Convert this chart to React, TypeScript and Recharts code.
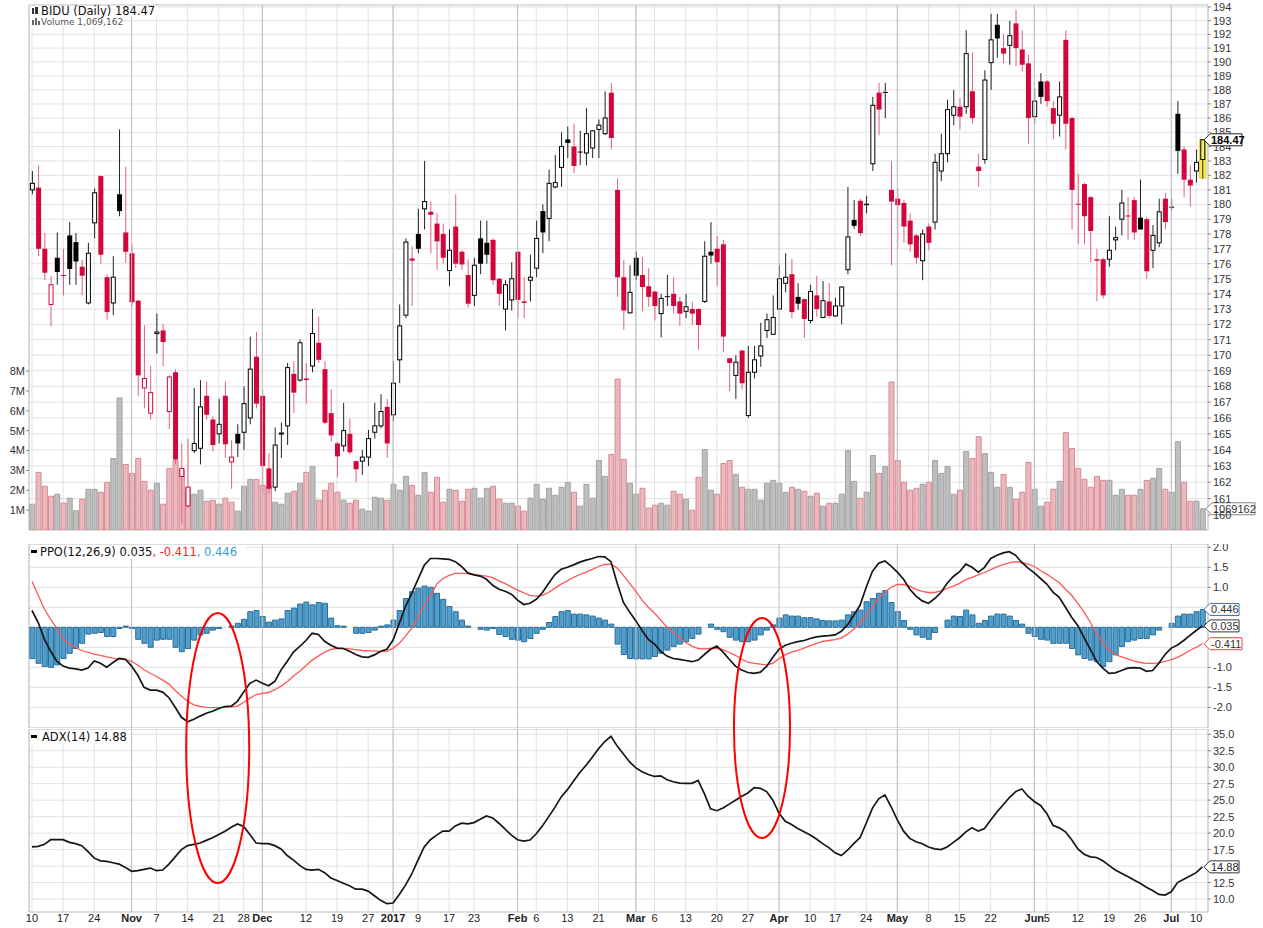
import React from 'react';
import {
  ComposedChart,
  Bar,
  Line,
  XAxis,
  YAxis,
  CartesianGrid,
  ReferenceLine,
  ReferenceArea,
  ReferenceDot,
  Cell
} from 'recharts';

// BIDU daily, 10 Oct 2016 - 11 Jul 2017
const opens = [
  181.0, 181.15, 177.0, 173.3, 176.4, 175.25, 177.9, 177.45, 175.8, 173.4,
  178.75, 181.95, 175.1, 173.4, 180.7, 178.1, 176.7, 173.55, 167.9, 166.3,
  171.4, 171.6, 166.4, 168.9, 162.35, 160.55, 163.95, 164.1, 167.4, 165.9,
  165.0, 167.4, 163.25, 165.0, 165.1, 166.0, 169.9, 167.4, 162.85, 161.7,
  165.0, 165.5, 168.8, 168.4, 168.5, 169.3, 170.8, 169.1, 166.3, 164.4,
  164.25, 165.0, 163.3, 163.3, 163.55, 165.1, 165.5, 166.7, 166.2, 169.7,
  172.6, 176.35, 178.0, 179.7, 179.5, 178.7, 178.0, 175.55, 178.5, 176.8,
  175.25, 173.9, 177.7, 177.4, 177.6, 175.0, 173.0, 173.6, 176.8, 173.5,
  174.9, 175.7, 179.55, 179.05, 181.2, 182.55, 184.5, 184.0, 183.65, 183.55,
  183.9, 185.2, 184.9, 187.8, 181.0, 175.1, 172.75, 176.4, 175.25, 174.5,
  174.15, 172.7, 173.85, 174.0, 173.5, 172.85, 173.0, 173.0, 173.5, 176.8,
  177.0, 177.3, 169.8, 168.7, 170.3, 166.15, 168.9, 169.95, 171.6, 171.35,
  173.0, 174.7, 175.3, 173.8, 173.65, 172.25, 173.9, 172.45, 173.5, 172.55,
  173.2, 175.6, 178.95, 180.25, 180.05, 182.8, 187.8, 187.85, 181.0, 180.4,
  180.1, 178.9, 177.9, 176.2, 178.5, 178.8, 182.3, 183.5, 186.2, 186.8,
  186.8, 187.9, 182.6, 183.1, 189.95, 192.7, 191.0, 191.2, 192.8, 190.9,
  189.9, 186.1, 188.6, 188.6, 186.7, 186.2, 191.6, 186.0, 180.05, 181.4,
  180.5, 176.3, 176.3, 176.3, 177.6, 179.0, 179.25, 180.3, 179.1, 179.0,
  176.9, 177.4, 180.4, 179.85, 186.3, 183.8, 181.7, 182.3, 183.1
];

const highs = [
  182.3, 182.7, 178.05, 175.2, 178.1, 177.0, 178.8, 178.05, 176.25, 177.4,
  181.1, 182.0, 175.3, 176.5, 185.2, 182.6, 177.3, 173.6, 171.95, 169.3,
  172.7, 172.0, 168.7, 169.1, 164.4, 164.7, 167.9, 168.4, 168.3, 166.1,
  167.2, 168.3, 164.6, 165.6, 168.0, 171.2, 171.5, 167.8, 163.8, 165.4,
  165.7, 169.5, 169.6, 171.0, 169.5, 173.0, 172.5, 169.6, 167.8, 164.5,
  166.95, 165.95, 163.35, 164.0, 165.25, 166.95, 167.5, 167.2, 169.6, 173.3,
  177.7, 177.2, 179.7, 183.0, 180.2, 179.4, 178.7, 178.3, 180.7, 176.9,
  176.3, 176.4, 178.9, 178.9, 177.7, 175.05, 174.9, 176.1, 176.85, 175.1,
  176.6, 178.9, 180.0, 182.4, 183.4, 185.0, 185.4, 185.6, 185.1, 186.7,
  185.15, 185.9, 187.9, 188.5, 181.8, 176.25, 175.9, 176.8, 176.45, 175.7,
  174.2, 174.0, 175.25, 175.1, 173.8, 174.0, 173.5, 173.05, 177.5, 178.8,
  177.85, 177.6, 169.8, 170.0, 170.35, 170.6, 170.6, 172.1, 172.7, 173.9,
  175.9, 176.7, 176.3, 174.7, 173.7, 174.6, 175.2, 174.85, 174.7, 173.75,
  174.5, 181.2, 180.3, 180.4, 180.6, 187.5, 188.5, 188.5, 183.0, 181.1,
  180.3, 179.4, 178.0, 178.3, 178.7, 183.5, 184.9, 187.3, 188.0, 187.4,
  192.3, 190.7, 183.5, 189.4, 193.5, 193.5, 192.0, 193.0, 193.8, 192.3,
  190.5, 188.1, 189.2, 188.7, 187.2, 188.6, 192.3, 186.1, 182.1, 181.5,
  180.6, 177.0, 176.4, 179.2, 178.5, 181.0, 180.5, 180.5, 181.7, 179.15,
  178.6, 180.4, 180.8, 180.4, 187.2, 184.0, 182.7, 183.8, 184.5
];

const lows = [
  180.7, 176.5, 174.9, 171.85, 174.6, 173.9, 174.6, 174.6, 173.9, 173.3,
  177.7, 176.0, 172.3, 172.6, 179.2, 176.05, 173.2, 167.4, 166.6, 165.9,
  170.1, 169.3, 165.3, 163.1, 159.5, 160.4, 163.8, 163.1, 165.9, 163.9,
  164.4, 163.5, 161.6, 163.55, 164.0, 165.6, 166.6, 161.3, 161.3, 161.45,
  163.5, 164.3, 166.3, 168.3, 166.9, 168.9, 169.5, 165.6, 164.5, 162.3,
  163.9, 163.7, 162.0, 162.45, 163.0, 164.7, 165.35, 163.5, 165.8, 168.2,
  172.4, 173.2, 176.7, 178.3, 176.7, 175.6, 176.0, 174.5, 175.7, 175.6,
  173.1, 173.2, 175.3, 176.0, 174.6, 173.2, 171.6, 172.9, 172.4, 172.4,
  173.5, 175.1, 176.7, 177.5, 181.1, 181.2, 183.2, 182.15, 182.7, 182.7,
  183.2, 183.2, 184.8, 183.8, 173.8, 171.65, 172.7, 174.9, 172.85, 173.15,
  172.25, 171.15, 173.2, 172.7, 171.9, 172.4, 171.95, 170.35, 173.4, 176.0,
  174.5, 170.2, 167.7, 167.2, 167.8, 166.0, 168.5, 169.25, 171.1, 171.3,
  172.95, 174.1, 172.4, 172.95, 171.1, 172.05, 172.5, 172.4, 172.4, 172.5,
  172.0, 175.3, 178.35, 177.85, 179.4, 182.3, 184.8, 186.0, 175.9, 177.0,
  177.4, 176.8, 176.0, 174.9, 176.9, 178.3, 181.6, 182.9, 185.5, 185.2,
  186.3, 185.6, 181.2, 182.8, 188.0, 190.3, 189.9, 189.8, 189.7, 189.3,
  184.2, 185.6, 187.0, 186.8, 184.5, 184.7, 183.8, 178.3, 177.3, 177.3,
  176.1, 173.5, 173.7, 175.8, 176.9, 177.9, 177.6, 177.6, 178.3, 175.0,
  175.7, 177.1, 178.3, 179.6, 182.1, 180.5, 179.85, 181.5, 181.8
];

const closes = [
  181.45, 177.0, 175.4, 174.6, 175.45, 175.2, 175.65, 176.15, 175.2, 176.7,
  180.8, 176.6, 172.8, 175.1, 179.55, 176.8, 173.45, 168.7, 168.5, 167.6,
  171.5, 170.85, 168.6, 163.4, 162.85, 161.7, 164.4, 166.7, 166.2, 164.3,
  165.6, 164.35, 163.55, 164.4, 166.9, 169.1, 166.9, 163.0, 161.6, 164.3,
  165.05, 169.2, 167.6, 170.8, 168.4, 171.4, 169.7, 165.7, 164.9, 163.6,
  165.2, 163.85, 162.8, 163.55, 164.7, 165.5, 166.4, 164.4, 168.2, 171.9,
  177.45, 176.2, 177.0, 180.2, 179.3, 177.5, 176.4, 176.9, 176.0, 175.95,
  173.35, 175.9, 176.0, 176.6, 174.9, 174.0, 174.6, 175.0, 173.6, 173.4,
  175.1, 177.7, 178.1, 181.45, 181.5, 184.0, 184.25, 182.65, 183.6, 184.9,
  185.1, 185.5, 186.0, 184.6, 175.1, 172.9, 174.1, 175.2, 174.45, 173.8,
  173.2, 173.7, 173.8, 173.2, 172.7, 173.15, 172.7, 171.95, 176.5, 176.55,
  176.1, 171.2, 169.5, 169.55, 168.2, 168.9, 169.7, 170.6, 172.3, 172.45,
  175.0, 175.1, 172.8, 173.35, 172.35, 174.15, 173.0, 173.55, 172.55, 173.2,
  174.45, 177.8, 178.55, 178.05, 179.95, 186.9, 186.6, 187.8, 180.2, 179.95,
  178.5, 177.3, 176.4, 178.0, 177.4, 182.9, 183.5, 186.6, 186.8, 186.1,
  190.6, 186.0, 182.3, 188.7, 191.6, 191.7, 190.6, 191.9, 191.0, 189.8,
  186.0, 187.2, 187.5, 187.2, 185.6, 187.5, 185.6, 181.0, 180.0, 179.2,
  178.2, 176.2, 173.9, 176.9, 177.75, 180.1, 179.2, 178.1, 178.3, 175.5,
  177.9, 179.5, 178.8, 179.8, 183.7, 181.7, 181.3, 182.9, 184.47
];

// volume in millions of shares
const volumes = [
  1.3, 2.9, 2.2, 1.7, 1.8, 1.35, 1.6, 0.97, 1.55, 2.05,
  2.05, 1.9, 2.4, 3.6, 6.65, 3.3, 2.85, 3.6, 2.45, 2.0,
  2.35, 1.3, 3.1, 3.5, 3.05, 2.1, 1.8, 2.0, 1.45, 1.5,
  1.3, 1.6, 1.4, 0.95, 2.2, 2.55, 2.55, 2.25, 2.2, 1.4,
  1.3, 1.85, 1.95, 2.35, 2.9, 3.2, 1.5, 2.0, 2.35, 1.9,
  1.5, 1.35, 1.5, 1.05, 0.95, 1.65, 1.6, 1.5, 2.3, 2.0,
  2.7, 2.25, 1.75, 2.9, 1.9, 2.65, 1.4, 2.05, 2.0, 1.45,
  2.05, 2.1, 1.6, 2.1, 2.2, 1.55, 1.35, 1.35, 1.2, 0.95,
  1.6, 2.3, 1.55, 2.1, 1.75, 2.15, 2.4, 1.9, 1.2, 2.3,
  1.6, 3.5, 2.7, 3.8, 7.6, 3.55, 2.35, 1.8, 2.1, 1.1,
  1.25, 1.35, 1.25, 1.95, 1.8, 1.55, 1.0, 2.65, 4.05, 2.0,
  1.8, 3.35, 3.5, 2.8, 2.15, 2.05, 2.05, 1.5, 2.35, 2.5,
  2.35, 1.9, 2.15, 2.05, 1.95, 1.7, 1.85, 1.2, 1.35, 1.35,
  1.8, 4.0, 2.45, 1.6, 1.9, 3.75, 2.85, 3.2, 7.45, 3.5,
  2.4, 2.0, 2.1, 2.3, 2.4, 3.5, 2.85, 3.2, 1.8, 2.0,
  3.95, 3.6, 4.7, 3.85, 2.9, 2.15, 2.8, 2.15, 1.55, 1.9,
  3.4, 2.05, 1.2, 1.4, 2.05, 2.45, 4.9, 4.1, 3.1, 2.55,
  2.15, 2.7, 2.5, 2.5, 1.75, 2.05, 1.75, 1.75, 2.05, 2.5,
  2.6, 3.1, 2.05, 1.9, 4.45, 2.4, 1.45, 1.45, 1.069162
];

const ppoLine = [
  0.42, 0.12, -0.3, -0.6, -0.85, -0.97, -1.02, -1.04, -1.07, -1.02,
  -0.84, -0.9, -1.0, -0.88, -0.78, -0.8, -0.97, -1.2, -1.5, -1.57,
  -1.57, -1.62, -1.76, -2.0, -2.25, -2.36, -2.3, -2.22, -2.15, -2.1,
  -2.03, -1.98, -1.97, -1.85, -1.62, -1.4, -1.32, -1.4, -1.46, -1.35,
  -1.07, -0.85, -0.62, -0.48, -0.33, -0.15, -0.18, -0.35, -0.45, -0.52,
  -0.53, -0.6, -0.68, -0.74, -0.75, -0.69, -0.6, -0.55, -0.32, 0.1,
  0.52, 0.85, 1.2, 1.55, 1.72, 1.72, 1.71, 1.7, 1.64, 1.52,
  1.36, 1.31, 1.28, 1.2, 1.05, 0.95, 0.9, 0.83, 0.68, 0.57,
  0.6, 0.7, 0.87, 1.1, 1.32, 1.45, 1.5, 1.56, 1.63, 1.68,
  1.72, 1.77, 1.76, 1.64, 1.1, 0.62, 0.38, 0.16, -0.08, -0.3,
  -0.42, -0.6, -0.72, -0.78, -0.8, -0.83, -0.86, -0.82, -0.68, -0.55,
  -0.47, -0.62, -0.8, -0.97, -1.07, -1.13, -1.15, -1.12, -0.98, -0.75,
  -0.55, -0.45, -0.4, -0.36, -0.33, -0.28, -0.24, -0.22, -0.21, -0.19,
  -0.1, 0.06, 0.3, 0.55, 1.0, 1.4, 1.6, 1.66, 1.53, 1.38,
  1.2, 0.95, 0.78, 0.66, 0.6, 0.72, 0.87, 1.1, 1.27, 1.39,
  1.58, 1.5, 1.38, 1.5, 1.72, 1.8, 1.86, 1.89, 1.8, 1.62,
  1.48, 1.36, 1.22, 1.08, 0.88, 0.75, 0.5, 0.25, 0.04, -0.26,
  -0.55, -0.85, -1.02, -1.15, -1.14, -1.08, -1.02, -1.01, -1.02, -1.1,
  -1.08, -0.9, -0.68, -0.52, -0.44, -0.33, -0.2, -0.08, 0.035
];

const ppoSignal = [
  1.15, 0.8, 0.45, 0.2, -0.03, -0.3, -0.42, -0.5, -0.58, -0.63,
  -0.67, -0.7, -0.74, -0.77, -0.79, -0.8, -0.85, -0.95, -1.06, -1.15,
  -1.23, -1.32, -1.42, -1.58, -1.72, -1.85, -1.94, -1.98, -2.0, -2.01,
  -2.01, -2.0, -1.99, -1.97, -1.88, -1.77, -1.68, -1.65, -1.63, -1.56,
  -1.47, -1.36, -1.22, -1.1, -0.96, -0.82, -0.72, -0.62, -0.55, -0.53,
  -0.53, -0.54, -0.56, -0.58, -0.59, -0.59, -0.61, -0.6, -0.52, -0.4,
  -0.22, -0.02, 0.25, 0.55, 0.78, 1.08, 1.22, 1.3, 1.35, 1.35,
  1.34, 1.32, 1.3, 1.28, 1.24, 1.16, 1.09, 1.01, 0.93, 0.86,
  0.8, 0.78, 0.8, 0.87, 0.98, 1.08, 1.16, 1.25, 1.32, 1.38,
  1.45, 1.52, 1.57, 1.58, 1.48, 1.3, 1.1, 0.9, 0.68, 0.5,
  0.35, 0.18, 0.0, -0.12, -0.25, -0.38, -0.47, -0.53, -0.54, -0.53,
  -0.53, -0.56, -0.63, -0.7, -0.8, -0.87, -0.9, -0.92, -0.94, -0.9,
  -0.78, -0.69, -0.62, -0.58, -0.52, -0.46, -0.4, -0.35, -0.33, -0.31,
  -0.27, -0.17, -0.05, 0.1, 0.3, 0.5, 0.72, 0.88, 1.0, 1.07,
  1.07, 1.03, 0.95, 0.9, 0.87, 0.87, 0.91, 0.97, 1.03, 1.1,
  1.19, 1.25, 1.31, 1.37, 1.44, 1.51, 1.57, 1.61, 1.64, 1.62,
  1.58, 1.52, 1.42, 1.33, 1.22, 1.12, 0.95, 0.8, 0.6, 0.38,
  0.12, -0.15, -0.38, -0.56, -0.68, -0.74, -0.79, -0.84, -0.88, -0.9,
  -0.9, -0.89, -0.85, -0.81, -0.75, -0.67, -0.58, -0.5, -0.411
];

const ppoHist = [
  -0.78, -0.9, -0.98, -1.0, -0.94, -0.78, -0.65, -0.53, -0.4, -0.17,
  -0.15, -0.13, -0.23, -0.23, -0.03, 0.03, -0.03, -0.3, -0.4, -0.5,
  -0.32, -0.3, -0.3, -0.5, -0.61, -0.53, -0.32, -0.19, -0.15, -0.07,
  -0.03, 0.0, 0.03, 0.1, 0.2, 0.39, 0.42, 0.27, 0.13, 0.18,
  0.21, 0.42, 0.48, 0.58, 0.63, 0.56, 0.62, 0.6, 0.23, 0.04,
  0.03, 0.0, -0.15, -0.15, -0.13, -0.07, 0.03, 0.06, 0.18, 0.42,
  0.72, 0.89, 0.98, 1.03, 1.0, 0.85, 0.7, 0.52, 0.39, 0.18,
  0.03, 0.0, -0.05, -0.07, -0.03, -0.18, -0.23, -0.3, -0.32, -0.36,
  -0.28, -0.15, -0.05, 0.12, 0.27, 0.39, 0.42, 0.33, 0.33, 0.31,
  0.28, 0.23, 0.18, 0.08, -0.42, -0.68, -0.78, -0.79, -0.79, -0.79,
  -0.73, -0.65, -0.57, -0.48, -0.42, -0.36, -0.28, -0.17, 0.0, 0.08,
  -0.05, -0.11, -0.25, -0.32, -0.36, -0.36, -0.32, -0.19, -0.07, 0.06,
  0.23, 0.31, 0.28, 0.28, 0.24, 0.24, 0.21, 0.17, 0.16, 0.16,
  0.18, 0.31, 0.39, 0.43, 0.64, 0.72, 0.85, 0.92, 0.62, 0.39,
  0.17, -0.05, -0.19, -0.25, -0.3, -0.13, 0.0, 0.18, 0.28, 0.27,
  0.43, 0.31, 0.1, 0.17, 0.28, 0.33, 0.33, 0.28, 0.17, 0.08,
  -0.15, -0.23, -0.3, -0.32, -0.4, -0.4, -0.4, -0.53, -0.69, -0.78,
  -0.82, -0.86, -0.98, -0.86, -0.69, -0.48, -0.36, -0.32, -0.28, -0.28,
  -0.19, -0.07, 0.0, 0.1, 0.28, 0.33, 0.33, 0.39, 0.446
];

const adxLine = [
  17.9, 18.0, 18.3, 19.0, 19.0, 19.0, 18.6, 18.4, 18.1, 17.2,
  16.2, 15.8, 15.7, 15.5, 15.3, 14.8, 14.2, 14.3, 14.5, 14.7,
  14.3, 14.4, 15.3, 16.4, 17.5, 18.1, 18.3, 18.5, 18.9, 19.3,
  19.8, 20.3, 20.9, 21.4, 21.0, 19.8, 18.5, 18.4, 18.4, 18.1,
  17.6, 16.6, 15.9, 15.1, 14.5, 14.4, 14.5, 14.0, 13.2, 12.8,
  12.4, 12.0, 11.5, 11.5, 11.2, 10.5, 9.8, 9.3, 9.4, 10.7,
  12.1, 13.8, 15.9, 17.9, 19.0, 19.7, 20.3, 20.3, 21.1, 21.5,
  21.4, 21.6, 22.1, 22.6, 22.3, 21.5, 20.6, 19.7, 19.0, 18.8,
  18.95, 19.9, 21.1, 22.5, 23.9, 25.5, 26.6, 27.9, 29.2, 30.3,
  31.5, 32.8, 33.9, 34.7, 33.2, 32.0, 30.8, 29.9, 29.3, 28.9,
  28.6, 28.7, 28.1, 27.8, 27.6, 27.55, 27.55, 28.0, 26.0, 23.7,
  23.4, 23.8, 24.4, 25.0, 25.6, 26.1, 26.9, 26.8, 26.3, 25.0,
  23.0, 21.8, 21.3, 20.7, 20.2, 19.7, 19.1, 18.4, 17.8, 17.0,
  16.6, 17.4, 18.4, 19.3, 21.5, 23.8, 25.2, 25.8, 24.0, 22.0,
  20.3, 19.2, 18.7, 18.4, 17.9, 17.6, 17.5, 17.9, 18.6, 19.3,
  20.2, 20.8, 20.3, 20.7, 22.0, 23.2, 24.3, 25.4, 26.3, 26.7,
  25.6, 24.8, 24.2, 23.0, 21.2, 20.8, 20.2, 19.0, 17.6, 16.8,
  16.4, 16.3, 15.8, 15.1, 14.4, 13.9, 13.4, 12.9, 12.4, 11.8,
  11.3, 10.7, 10.6, 11.1, 12.5, 13.0, 13.5, 14.0, 14.88
];

// [day index, label, is month start]
const dateTicks: [number, string, boolean][] = [
  [0, '10', false], [5, '17', false], [10, '24', false], [16, 'Nov', true],
  [20, '7', false], [25, '14', false], [30, '21', false], [34, '28', false],
  [37, 'Dec', true], [44, '12', false], [49, '19', false], [54, '27', false],
  [58, '2017', true], [62, '9', false], [67, '17', false], [71, '23', false],
  [78, 'Feb', true], [81, '6', false], [86, '13', false], [91, '21', false],
  [97, 'Mar', true], [100, '6', false], [105, '13', false], [110, '20', false],
  [115, '27', false], [120, 'Apr', true], [125, '10', false], [129, '17', false],
  [134, '24', false], [139, 'May', true], [144, '8', false], [149, '15', false],
  [154, '22', false], [161, 'Jun', true], [163, '5', false], [168, '12', false],
  [173, '19', false], [178, '26', false], [183, 'Jul', true], [187, '10', false]
];

const priceTicks = [
  160, 161, 162, 163, 164, 165, 166, 167, 168, 169, 170, 171, 172, 173, 174, 175, 176, 177,
  178, 179, 180, 181, 182, 183, 184, 185, 186, 187, 188, 189, 190, 191, 192, 193, 194
];
const volTicks = [1, 2, 3, 4, 5, 6, 7, 8];
const ppoTicks = [-2, -1.5, -1, -0.5, 0, 0.5, 1, 1.5, 2];
const adxTicks = [10, 12.5, 15, 17.5, 20, 22.5, 25, 27.5, 30, 32.5, 35];

const W = 1263;
const X0 = -0.48;
const X1 = 188.9;
const PRICE_DOM: [number, number] = [159.09, 194.15];
const VOL_DOM: [number, number] = [0, 26.435];
const PPO_DOM: [number, number] = [-2.5175, 2.0825];
const ADX_DOM: [number, number] = [8.03, 35.8];

const AX = '"Liberation Sans", Arial, sans-serif';
const LEG = '"DejaVu Sans", Verdana, sans-serif';
const RED = '#d3063b';

const rows = closes.map((c, i) => ({
  i,
  open: opens[i],
  high: highs[i],
  low: lows[i],
  close: c,
  up: i === 0 ? true : c >= closes[i - 1],
  vol: volumes[i],
  ppo: ppoLine[i],
  signal: ppoSignal[i],
  hist: ppoHist[i],
  adx: adxLine[i]
}));
const last = rows[rows.length - 1];

const tickIdx = dateTicks.map((t) => t[0]);
const tickMap = new Map(dateTicks.map(([i, l, b]) => [i, { l, b }]));
const monthIdx = dateTicks.filter((t) => t[2]).map((t) => t[0]);

const DateTick = (p: any) => {
  const t = tickMap.get(p.payload && p.payload.value);
  if (!t) return null;
  return (
    <text x={p.x} y={p.y + 10} textAnchor="middle" fontSize={11} fontWeight={t.b ? 700 : 400}
      fill="#222" fontFamily={AX}>
      {t.l}
    </text>
  );
};

// candle drawn inside the [low, high] range bar; open/close placed on the same log scale
const Candle = (props: any) => {
  const { x, y, width, height, payload } = props;
  if (x == null || y == null || !payload) return null;
  const top = Math.min(y, y + height);
  const bot = Math.max(y, y + height);
  const lh = Math.log(payload.high);
  const ll = Math.log(payload.low);
  const py = (p: number) => (lh === ll ? top : top + ((bot - top) * (lh - Math.log(p))) / (lh - ll));
  const cx = x + width / 2;
  const color = payload.up ? '#000' : RED;
  const hollow = payload.close >= payload.open;
  const bt = py(Math.max(payload.open, payload.close));
  const bb = py(Math.min(payload.open, payload.close));
  const bh = Math.max(bb - bt, 1);
  const isLast = payload.i === last.i;
  return (
    <g>
      {isLast && (
        <rect x={x - 0.5} y={top} width={width + 1} height={bot - top} fill="#f9f25a" stroke="#e1cf1d" />
      )}
      <line x1={cx} x2={cx} y1={top} y2={bot} stroke={payload.up ? '#222' : '#e2607e'} strokeWidth={1} />
      {hollow ? (
        <rect x={x + 0.5} y={bt} width={width - 1} height={bh} fill={isLast ? '#f9f25a' : '#fff'} stroke={color} strokeWidth={1} />
      ) : (
        <rect x={x} y={bt} width={width} height={bh} fill={color} />
      )}
    </g>
  );
};

const Tag = (p: any) => {
  const { cx, cy, text, stroke, color, bold, w } = p;
  if (cx == null || cy == null) return null;
  return (
    <g>
      <path
        d={`M${cx - 2},${cy} L${cx + 4},${cy - 6} L${cx + w},${cy - 6} L${cx + w},${cy + 6} L${cx + 4},${cy + 6} Z`}
        fill="#fff" stroke={stroke} strokeWidth={1}
      />
      <text x={cx + 5} y={cy + 4} fontSize={11} fontWeight={bold ? 700 : 400} fill={color} fontFamily={AX}>
        {text}
      </text>
    </g>
  );
};

// last-value tags are extra ticks of the value axis, listed last so they sit on top of the labels;
// labels fully hidden under a tag in the original are left out
type TagSpec = { v: number; text: string; stroke: string; color: string; bold?: boolean; w: number };

const makeAxisTick = (tags: TagSpec[], fmt: (v: number) => string, covered: number[] = []) => (p: any) => {
  const v = p.payload && p.payload.value;
  const tag = tags.find((t) => t.v === v);
  if (tag) {
    return <Tag cx={p.x - 7} cy={p.y} w={tag.w} text={tag.text} stroke={tag.stroke} color={tag.color} bold={tag.bold} />;
  }
  if (covered.includes(v)) return null;
  return (
    <text x={p.x} y={p.y + 4} fontSize={11} fill="#333" fontFamily={AX}>
      {fmt(v)}
    </text>
  );
};

const priceTags: TagSpec[] = [
  { v: last.close, text: last.close.toFixed(2), stroke: '#222', color: '#000', bold: true, w: 36 }
];
const ppoTags: TagSpec[] = [
  { v: last.hist, text: last.hist.toFixed(3), stroke: '#3f73b5', color: '#333', w: 33 },
  { v: last.ppo, text: last.ppo.toFixed(3), stroke: '#333', color: '#333', w: 33 },
  { v: last.signal, text: last.signal.toFixed(3), stroke: '#ff3b3b', color: '#333', w: 36 }
];
const adxTags: TagSpec[] = [
  { v: last.adx, text: last.adx.toFixed(2), stroke: '#333', color: '#222', w: 33 }
];

const axisTick = { fontSize: 11, fill: '#333', fontFamily: AX };

const MonthLines = (yId: string) =>
  monthIdx.map((m) => (
    <ReferenceLine key={`m${m}`} xAxisId="x" yAxisId={yId} x={m} stroke="#bdbdbd" strokeWidth={1} />
  ));

const PriceChart = () => (
  <ComposedChart width={W} height={543} data={rows} margin={{ top: 5, right: 0, bottom: 0, left: 0 }}>
    <XAxis xAxisId="x" dataKey="i" type="number" domain={[X0, X1]} ticks={tickIdx} interval={0}
      allowDataOverflow height={13} tickLine={false} axisLine={false} tickSize={0} tickMargin={0}
      tick={<DateTick />} />
    <XAxis xAxisId="vx" dataKey="i" type="number" domain={[X0, X1]} allowDataOverflow hide />
    <YAxis yAxisId="vol" orientation="left" width={29} domain={VOL_DOM} ticks={volTicks} interval={0}
      allowDataOverflow axisLine={false} tickSize={3} tickMargin={1} tickLine={{ stroke: '#888' }}
      tick={axisTick} tickFormatter={(v: number) => `${v}M`} />
    <YAxis yAxisId="price" orientation="right" width={55} scale="log" domain={PRICE_DOM}
      ticks={[...priceTicks, ...priceTags.map((t) => t.v)]} interval={0} allowDataOverflow axisLine={false}
      tickSize={3} tickMargin={2} tickLine={{ stroke: '#888' }}
      tick={makeAxisTick(priceTags, (v) => String(v))} />
    <CartesianGrid xAxisId="x" yAxisId="price" horizontalValues={priceTicks} stroke="#e2e2e2" />
    {MonthLines('price')}
    <ReferenceArea xAxisId="x" yAxisId="price" x1={X0} x2={X1} y1={PRICE_DOM[0]} y2={PRICE_DOM[1]}
      fill="none" stroke="#bdbdbd" ifOverflow="visible" />
    <Bar xAxisId="vx" yAxisId="vol" dataKey="vol" barSize={5} isAnimationActive={false}>
      {rows.map((r) => (
        <Cell key={r.i} fill={r.up ? '#bebebe' : '#e9b9be'} stroke={r.up ? '#a2a2a2' : '#d98893'} />
      ))}
    </Bar>
    <Bar xAxisId="x" yAxisId="price" dataKey={(d: any) => [d.low, d.high]} barSize={5}
      isAnimationActive={false} shape={(p: any) => <Candle {...p} />} />
    <ReferenceDot xAxisId="x" yAxisId="vol" x={X1} y={last.vol} ifOverflow="visible"
      shape={(p: any) => (
        <Tag cx={p.cx} cy={p.cy} w={47} text={String(Math.round(last.vol * 1e6))} stroke="#888" color="#333" />
      )} />
  </ComposedChart>
);

const PpoChart = () => (
  <ComposedChart width={W} height={184} data={rows} margin={{ top: 0, right: 0, bottom: 0, left: 29 }}>
    <XAxis xAxisId="x" dataKey="i" type="number" domain={[X0, X1]} ticks={tickIdx} interval={0}
      allowDataOverflow height={0} tick={false} axisLine={false} tickLine={false} />
    <YAxis yAxisId="p" orientation="right" width={55} domain={PPO_DOM}
      ticks={[...ppoTicks, ...ppoTags.map((t) => t.v)]} interval={0}
      allowDataOverflow axisLine={false} tickSize={3} tickMargin={2} tickLine={{ stroke: '#888' }}
      tick={makeAxisTick(ppoTags, (v) => v.toFixed(1), [0, 0.5, -0.5])} />
    <CartesianGrid xAxisId="x" yAxisId="p" horizontalValues={ppoTicks} stroke="#e2e2e2" />
    {MonthLines('p')}
    <ReferenceArea xAxisId="x" yAxisId="p" x1={X0} x2={X1} y1={PPO_DOM[0]} y2={PPO_DOM[1]}
      fill="none" stroke="#bdbdbd" ifOverflow="visible" />
    <Bar xAxisId="x" yAxisId="p" dataKey="hist" barSize={5} fill="#4f9fcd" stroke="#2b6c9a"
      isAnimationActive={false} />
    <Line xAxisId="x" yAxisId="p" dataKey="signal" stroke="#ff5656" strokeWidth={1.3} dot={false}
      isAnimationActive={false} />
    <Line xAxisId="x" yAxisId="p" dataKey="ppo" stroke="#151515" strokeWidth={1.7} dot={false}
      isAnimationActive={false} />
  </ComposedChart>
);

const AdxChart = () => (
  <ComposedChart width={W} height={199} data={rows} margin={{ top: 0, right: 0, bottom: 0, left: 29 }}>
    <XAxis xAxisId="x" dataKey="i" type="number" domain={[X0, X1]} ticks={tickIdx} interval={0}
      allowDataOverflow height={16} tickLine={false} axisLine={false} tickSize={0} tickMargin={0}
      tick={<DateTick />} />
    <YAxis yAxisId="a" orientation="right" width={55} domain={ADX_DOM}
      ticks={[...adxTicks, ...adxTags.map((t) => t.v)]} interval={0}
      allowDataOverflow axisLine={false} tickSize={3} tickMargin={2} tickLine={{ stroke: '#888' }}
      tick={makeAxisTick(adxTags, (v) => v.toFixed(1), [15])} />
    <CartesianGrid xAxisId="x" yAxisId="a" horizontalValues={adxTicks} stroke="#e2e2e2" />
    {MonthLines('a')}
    <ReferenceArea xAxisId="x" yAxisId="a" x1={X0} x2={X1} y1={ADX_DOM[0]} y2={ADX_DOM[1]}
      fill="none" stroke="#bdbdbd" ifOverflow="visible" />
    <Line xAxisId="x" yAxisId="a" dataKey="adx" stroke="#151515" strokeWidth={1.7} dot={false}
      isAnimationActive={false} />
  </ComposedChart>
);

// legends and the two hand-drawn red ellipses sit on a transparent layer above the charts
const Overlay = () => (
  <svg width={W} height={928} style={{ position: 'absolute', left: 0, top: 0, pointerEvents: 'none' }}>
    <rect x={30} y={6} width={128} height={11} fill="#fff" />
    <rect x={30} y={17} width={92} height={9} fill="#fff" />
    <rect x={32} y={8} width={2} height={6} fill="#333" />
    <rect x={35} y={7} width={3} height={7} fill="#333" />
    <text x={41} y={15} fontSize={11.5} fill="#111" fontFamily={LEG}>{`BIDU (Daily) ${last.close.toFixed(2)}`}</text>
    <rect x={32} y={20} width={2} height={5} fill="#666" />
    <rect x={35} y={18} width={2} height={7} fill="#666" />
    <rect x={38} y={21} width={2} height={4} fill="#666" />
    <text x={41} y={25} fontSize={9} fill="#555" fontFamily={LEG}>
      {`Volume ${Math.round(last.vol * 1e6).toLocaleString('en-US')}`}
    </text>

    <rect x={30} y={545} width={216} height={14} fill="#fff" />
    <rect x={31} y={550} width={6} height={3} fill="#000" />
    <text x={40} y={556} fontSize={11.5} fontFamily={LEG}>
      <tspan fill="#111">{`PPO(12,26,9) ${last.ppo.toFixed(3)}`}</tspan>
      <tspan fill="#ff2020">{`, ${last.signal.toFixed(3)}`}</tspan>
      <tspan fill="#3a9bd8">{`, ${last.hist.toFixed(3)}`}</tspan>
    </text>

    <rect x={30} y={730} width={100} height={14} fill="#fff" />
    <rect x={31} y={735} width={6} height={3} fill="#000" />
    <text x={42} y={741} fontSize={11.5} fill="#111" fontFamily={LEG}>{`ADX(14) ${last.adx.toFixed(2)}`}</text>

    <ellipse cx={217.7} cy={748} rx={31.5} ry={135} fill="none" stroke="#ff0000" strokeWidth={2} />
    <ellipse cx={762} cy={728} rx={28} ry={110} fill="none" stroke="#ff0000" strokeWidth={2} />
  </svg>
);

export default function App() {
  return (
    <div style={{ position: 'relative', width: W, height: 928, background: '#fff', overflow: 'hidden' }}>
      <style>{'body{margin:0;}'}</style>
      <div style={{ position: 'absolute', left: 0, top: 0 }}>
        <PriceChart />
      </div>
      <div style={{ position: 'absolute', left: 0, top: 544 }}>
        <PpoChart />
      </div>
      <div style={{ position: 'absolute', left: 0, top: 729 }}>
        <AdxChart />
      </div>
      <Overlay />
    </div>
  );
}
